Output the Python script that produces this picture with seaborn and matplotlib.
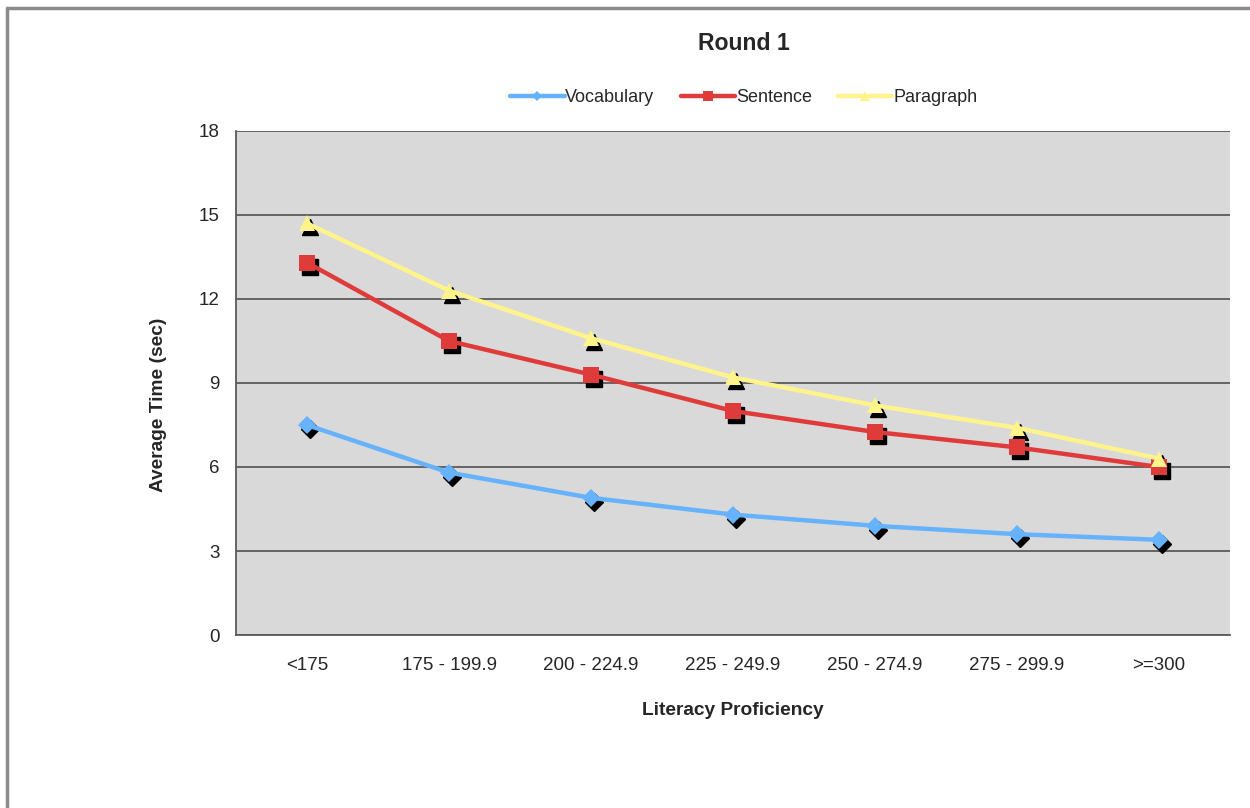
import matplotlib.pyplot as plt
import matplotlib.transforms as mtransforms
from matplotlib.lines import Line2D
import seaborn as sns
import pandas as pd
import numpy as np

categories = ["<175", "175 - 199.9", "200 - 224.9", "225 - 249.9", "250 - 274.9", "275 - 299.9", ">=300"]
vocabulary = [7.5, 5.8, 4.9, 4.3, 3.9, 3.6, 3.4]
sentence = [13.3, 10.5, 9.3, 8.0, 7.25, 6.7, 6.0]
paragraph = [14.7, 12.3, 10.6, 9.2, 8.2, 7.4, 6.3]

series = ["Vocabulary", "Sentence", "Paragraph"]
colors = {"Vocabulary": "#66b2fc", "Sentence": "#e03b3b", "Paragraph": "#fff38c"}
markers = {"Vocabulary": "D", "Sentence": "s", "Paragraph": "^"}
msizes = {"Vocabulary": 9, "Sentence": 12, "Paragraph": 12}

df = pd.DataFrame({
    "level": categories * 3,
    "time": vocabulary + sentence + paragraph,
    "series": [s for s in series for _ in categories],
})

sns.set_style("white")
plt.rcParams["font.family"] = ["Liberation Sans", "DejaVu Sans"]

fig = plt.figure(figsize=(12.5, 8.08), dpi=100)
# outer frame: only top and left edges are visible in the picture
fig.lines.append(Line2D([7 / 1250, 7 / 1250], [0, 1 - 8 / 808], transform=fig.transFigure,
                        color="#8c8c8c", linewidth=2.5))
fig.lines.append(Line2D([7 / 1250, 1], [1 - 8 / 808, 1 - 8 / 808], transform=fig.transFigure,
                        color="#8c8c8c", linewidth=2.5))

ax = fig.add_axes([0.1888, 0.2141, 0.7952, 0.6238])
ax.set_facecolor("#d9d9d9")

x = np.arange(len(categories))
shadow = ax.transData + mtransforms.ScaledTranslation(3 / 100, -4 / 100, fig.dpi_scale_trans)
for s in series:
    vals = df[df["series"] == s]["time"].values
    ax.plot(x, vals, linestyle="none", marker=markers[s], markersize=msizes[s],
            color="black", transform=shadow, zorder=2)

for s in series:
    sub = df[df["series"] == s]
    sns.lineplot(data=sub, x="level", y="time", color=colors[s], linewidth=3.2,
                 marker=markers[s], markersize=msizes[s], markeredgewidth=0,
                 ax=ax, zorder=3, legend=False, sort=False)

ax.set_xlim(-0.5, len(categories) - 0.5)
ax.set_ylim(0, 18)
ax.set_yticks([0, 3, 6, 9, 12, 15, 18])
ax.yaxis.grid(True, color="#5a5a5a", linewidth=1.3)
ax.set_axisbelow(True)
ax.set_xticks(x)
ax.set_xticklabels(categories, fontsize=13.5)
ax.set_xticks(np.arange(-0.5, len(categories), 1), minor=True)
ax.tick_params(axis="x", which="major", length=0, pad=16)
ax.tick_params(axis="x", which="minor", length=6, width=1.3, color="#5a5a5a", direction="out")
ax.tick_params(axis="y", length=6, width=1.3, color="#5a5a5a", direction="out", labelsize=13.5, pad=6)
for sp in ["top", "right"]:
    ax.spines[sp].set_visible(False)
for sp in ["left", "bottom"]:
    ax.spines[sp].set_color("#5a5a5a")
    ax.spines[sp].set_linewidth(1.3)

ax.set_xlabel("Literacy Proficiency", fontsize=13.8, fontweight="bold", labelpad=20)
ax.set_ylabel("Average Time (sec)", fontsize=13.8, fontweight="bold")
ax.yaxis.set_label_coords(-0.069, 0.456)

fig.suptitle("Round 1", fontsize=16.6, fontweight="bold", x=0.595, y=0.96)

handles = [Line2D([0], [0], color=colors[s], linewidth=3.2, marker=markers[s],
                  markersize=msizes[s] * 0.55, markeredgewidth=0) for s in series]
fig.legend(handles, series, loc="center", bbox_to_anchor=(0.595, 0.879), ncol=3, frameon=False,
           fontsize=13, handlelength=3.0, handletextpad=0.05, columnspacing=1.45)

fig.savefig("out.png", dpi=100)
